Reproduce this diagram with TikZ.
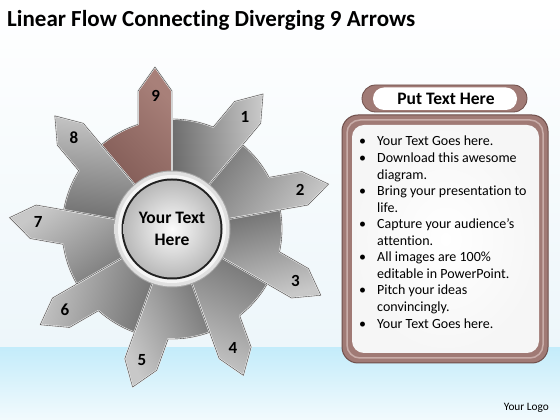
\documentclass[tikz,border=0pt]{standalone}
\usepackage{fontspec}
\setmainfont{Carlito}[Ligatures=NoCommon]
\definecolor{bandtop}{HTML}{C4ECFA}
\definecolor{bandbot}{HTML}{F2FAFD}
\definecolor{skylow}{HTML}{EDF6FA}
\definecolor{silverL}{HTML}{C8C8C8}
\definecolor{silverD}{HTML}{696969}
\definecolor{brownL}{HTML}{A88079}
\definecolor{brownD}{HTML}{7A544F}
\definecolor{brownA}{HTML}{A07A75}
\definecolor{brownE}{HTML}{6E4E4A}
\definecolor{brownH}{HTML}{C9ADA9}
\tikzset{
  piece/.style={draw=white!85!gray, line width=1.6pt, line join=round},
  pieceline/.style={draw=gray!40!black, line width=0.35pt, line join=round},
  num/.style={font=\fontsize{17}{17}\selectfont\bfseries, inner sep=0pt},
  bullettext/.style={font=\fontsize{14}{14}\selectfont, anchor=base west, inner sep=0pt},
}
\newcommand\piecepath[1]{(0,0) -- (#1:138) -- ({#1+6.0}:162.9) -- ({#1+13.84}:142.1)
    -- ({#1+18.0}:110) arc[start angle={#1+18}, end angle={#1+40}, radius=110] -- cycle}
\newcommand\drawpiece[4]{%
  \shadedraw[piece, top color=#2, bottom color=#3, shading angle=#4] \piecepath{#1};
  \draw[pieceline] \piecepath{#1};}
\begin{document}
\begin{tikzpicture}[x=1pt,y=1pt]
\useasboundingbox (0,0) rectangle (560,420);
% background
\shade[top color=white, bottom color=skylow] (0,72) rectangle (560,420);
\shade[top color=bandtop, bottom color=bandbot] (0,0) rectangle (560,72);
% title
\node[anchor=base west, inner sep=0pt, font=\fontsize{23}{23}\selectfont\bfseries] (title) at (7,393) {Linear Flow Connecting Diverging 9 Arrows};
% pinwheel
\begin{scope}[shift={(172,191)}]
  \foreach \k in {1,...,8} {
    \pgfmathsetmacro\a{90-40*\k}
    \pgfmathsetmacro\sa{\a-135}
    \drawpiece{\a}{silverL}{silverD}{\sa}
  }
  \drawpiece{90}{brownL}{brownD}{-45}
  \foreach \k in {1,...,9} {
    \pgfmathsetmacro\a{90-40*\k}
    \node[num] (n\k) at ({\a+7}:134) {\k};
  }
  % center hub
  \fill[gray!70] (0,0) circle (58.5);
  \shade[inner color=white, outer color=gray!25] (0,0) circle (57.5);
  \fill[white!92!gray] (0,0) circle (54);
  \fill[gray!25!black] (0,0) circle (50.5);
  \shade[inner color=white!97!gray, outer color=gray!55] (0,0) circle (48.5);
  \node[align=center, font=\fontsize{17.5}{21.5}\selectfont\bfseries, inner sep=0pt] (hub) at (0,0) {Your Text\\Here};
\end{scope}
% header pill
\fill[brownA, rounded corners=13.5] (362,308) rectangle (527,335);
\draw[brownE, line width=0.8pt, rounded corners=13.5] (362,308) rectangle (527,335);
\fill[white, rounded corners=11] (373,310) rectangle (517,332.5);
\node[font=\fontsize{17.5}{17.5}\selectfont\bfseries, inner sep=0pt] (head) at (446,321) {Put Text Here};
% text box
\fill[brownA, rounded corners=16] (342,57) rectangle (548,305);
\draw[brownE, line width=1pt, rounded corners=16] (342,57) rectangle (548,305);
\draw[brownH, line width=1.5pt, rounded corners=13] (347,62) rectangle (543,300);
\shade[inner color=white, outer color=white!93!gray, rounded corners=12] (352,67) rectangle (539,295);
\foreach \t/\i/\b in {Your Text Goes here./0/1, Download this awesome/1/1, diagram./2/0,
  Bring your presentation to/3/1, life./4/0, Capture your audience’s/5/1, attention./6/0,
  All images are 100\%/7/1, editable in PowerPoint./8/0, Pitch your ideas/9/1,
  convincingly./10/0, Your Text Goes here./11/1} {
  \node[bullettext] (line\i) at (377,{274-16.55*\i}) {\t};
  \ifnum\b=1
    \node[bullettext] (bul\i) at (359,{274-16.55*\i}) {\textbullet};
  \fi
}
% logo
\node[anchor=base east, inner sep=0pt, font=\fontsize{11.3}{11.3}\selectfont] (logo) at (549,9) {Your Logo};
\end{tikzpicture}
\end{document}
